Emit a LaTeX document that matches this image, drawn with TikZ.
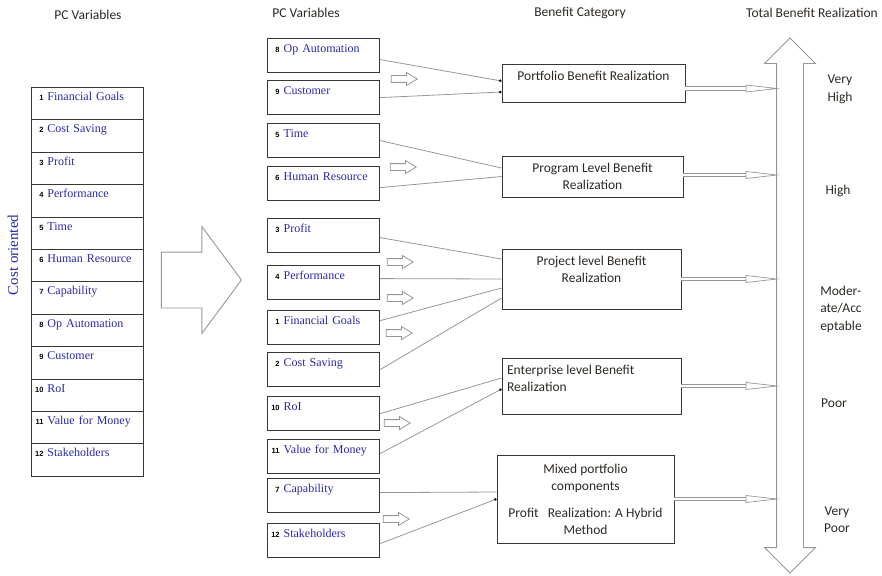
\documentclass[tikz,border=0pt]{standalone}
\usepackage{fontspec}
\setmainfont{Liberation Serif}
\newfontfamily\calfont{Carlito}
\newfontfamily\numfont{Liberation Sans}
\usetikzlibrary{shapes.arrows,arrows.meta}
\definecolor{varblue}{RGB}{40,40,170}
\definecolor{linegray}{RGB}{150,150,150}
\definecolor{boxgray}{RGB}{55,55,55}
\definecolor{txtgray}{RGB}{45,40,35}
\newcommand\pcno[1]{\makebox[10pt][r]{\color{black}\numfont\bfseries\fontsize{7.5}{7.5}\selectfont #1}\hspace{4pt}}

\begin{document}
\begin{tikzpicture}[x=1pt,y=-1pt,
    pcrow/.style={draw=boxgray,line width=0.9pt,anchor=north west,inner sep=2pt,
      text width=108pt,text height=11pt,text depth=17.4pt,text=varblue,
      font=\fontsize{12}{13}\selectfont},
    pcbox/.style={pcrow,line width=1.2pt,text height=12pt,text depth=18pt},
    bencat/.style={draw=boxgray,line width=0.9pt,text=txtgray,align=center,
      font=\calfont\fontsize{13.5}{17}\selectfont},
    bentext/.style={anchor=north,yshift=-4pt,align=center,text=txtgray,
      font=\calfont\fontsize{13.5}{17}\selectfont},
    colhead/.style={text=txtgray,align=center,font=\calfont\fontsize{13.5}{17.5}\selectfont},
    link/.style={linegray,line width=0.8pt},
    dotlink/.style={link,-{Circle[length=2.5pt,color=black]}},
    smallarr/.style={single arrow,draw=linegray,line width=0.8pt,minimum height=26pt,
      inner xsep=0pt,inner ysep=3pt,single arrow head extend=3pt,single arrow tip angle=62,
      anchor=tip},
    dblshaft/.style={draw=linegray,double=white,double distance=2.8pt,line width=0.7pt},
    tiphead/.style={draw=linegray,line width=0.7pt,fill=white}]
  \useasboundingbox (0,0) rectangle (882,575);

  \node[colhead] (h1) at (88,15) {PC Variables};
  \node[colhead] (h2) at (306,13) {PC Variables};
  \node[colhead] (h3) at (580,13) {Benefit Category};
  \node[colhead] (h4) at (812,13) {Total Benefit Realization};

  \node[rotate=90,text=varblue,font=\fontsize{15}{15}\selectfont] (cost) at (13,255) {Cost oriented};

  \node[pcrow] (p1) at (31,87) {\pcno{1}Financial Goals};
  \node[pcrow] (p2) at (31,119.4) {\pcno{2}Cost Saving};
  \node[pcrow] (p3) at (31,151.8) {\pcno{3}Profit};
  \node[pcrow] (p4) at (31,184.2) {\pcno{4}Performance};
  \node[pcrow] (p5) at (31,216.6) {\pcno{5}Time};
  \node[pcrow] (p6) at (31,249) {\pcno{6}Human Resource};
  \node[pcrow] (p7) at (31,281.4) {\pcno{7}Capability};
  \node[pcrow] (p8) at (31,313.8) {\pcno{8}Op Automation};
  \node[pcrow] (p9) at (31,346.2) {\pcno{9}Customer};
  \node[pcrow] (p10) at (31,378.6) {\pcno{10}RoI};
  \node[pcrow] (p11) at (31,411) {\pcno{11}Value for Money};
  \node[pcrow] (p12) at (31,443.4) {\pcno{12}Stakeholders};

  \node[single arrow,draw=linegray,line width=0.9pt,minimum height=80pt,inner xsep=0pt,
    inner ysep=27.5pt,single arrow head extend=25.5pt,single arrow tip angle=107,anchor=tip]
    (bigarr) at (242,280) {};

  \node[pcbox] (v8) at (267,38) {\pcno{8}Op Automation};
  \node[pcbox] (v9) at (267,80) {\pcno{9}Customer};
  \node[pcbox] (v5) at (267,123) {\pcno{5}Time};
  \node[pcbox] (v6) at (267,166) {\pcno{6}Human Resource};
  \node[pcbox] (v3) at (267,218) {\pcno{3}Profit};
  \node[pcbox] (v4) at (267,265) {\pcno{4}Performance};
  \node[pcbox] (v1) at (267,310) {\pcno{1}Financial Goals};
  \node[pcbox] (v2) at (267,352) {\pcno{2}Cost Saving};
  \node[pcbox] (v10) at (267,396) {\pcno{10}RoI};
  \node[pcbox] (v11) at (267,439) {\pcno{11}Value for Money};
  \node[pcbox] (v7) at (267,478) {\pcno{7}Capability};
  \node[pcbox] (v12) at (267,523) {\pcno{12}Stakeholders};

  \node[smallarr] (a1) at (418,79) {};
  \node[smallarr] (a2) at (417,167) {};
  \node[smallarr] (a3) at (414,262) {};
  \node[smallarr] (a4) at (414,298) {};
  \node[smallarr] (a5) at (413,333) {};
  \node[smallarr] (a6) at (411,423) {};
  \node[smallarr] (a7) at (410,519) {};

  \node[bencat,minimum width=183pt,minimum height=38pt,
    label={[bentext]north:{Portfolio Benefit Realization}}] (pf) at (593.5,83) {};
  \node[bencat,minimum width=181pt,minimum height=41pt] (pg) at (592.5,176.5)
    {Program Level Benefit\\Realization};
  \node[bencat,minimum width=179pt,minimum height=60pt,
    label={[bentext]north:{Project level Benefit\\Realization}}] (pj) at (591.5,279) {};
  \node[bencat,minimum width=179pt,minimum height=56pt,
    label={[bentext,anchor=north west,align=left,xshift=2pt]north west:{Enterprise level Benefit\\Realization}}]
    (en) at (591.5,386) {};
  \node[bencat,minimum width=177pt,minimum height=88pt] (mx) at (585.5,499)
    {Mixed portfolio\\components\\[10pt]Profit~~~Realization: A Hybrid\\Method};

  \draw[dotlink] ([yshift=-4pt]v8.east) -- ([yshift=2pt]pf.west);
  \draw[dotlink] (v9.east) -- ([yshift=-9pt]pf.west);
  \draw[link] (v5.east) -- ([yshift=8.5pt]pg.west);
  \draw[link] ([yshift=-4pt]v6.east) -- (pg.west);
  \draw[link] ([yshift=-2pt]v3.east) -- ([yshift=20pt]pj.west);
  \draw[link] ([yshift=4pt]v4.east) -- (pj.west);
  \draw[link] ([yshift=7pt]v1.east) -- ([yshift=-9pt]pj.west);
  \draw[link] (v2.east) -- ([yshift=-19pt]pj.west);
  \draw[link] (v10.east) -- ([yshift=8pt]en.west);
  \draw[dotlink] ([yshift=3pt]v11.east) -- ([yshift=-3pt]en.west);
  \draw[link] ([yshift=3pt]v7.east) -- ([yshift=7pt]mx.west);
  \draw[dotlink] ([yshift=-3pt]v12.east) -- (mx.west);

  \node[double arrow,draw=linegray,line width=0.9pt,rotate=90,minimum height=535pt,
    inner xsep=0pt,inner ysep=13pt,double arrow head extend=12pt,double arrow tip angle=90]
    (scale) at (790,305.5) {};

  \coordinate (t1) at (777,88.5);
  \coordinate (t2) at (777,175);
  \coordinate (t3) at (777,279);
  \coordinate (t4) at (777,386);
  \coordinate (t5) at (777,499);

  \draw[dblshaft] (pf.east |- t1) -- ([xshift=-28pt]t1);
  \draw[tiphead] ([xshift=-31pt,yshift=3.5pt]t1) -- (t1) -- ([xshift=-31pt,yshift=-3.5pt]t1) -- cycle;
  \draw[dblshaft] (pg.east |- t2) -- ([xshift=-28pt]t2);
  \draw[tiphead] ([xshift=-31pt,yshift=3.5pt]t2) -- (t2) -- ([xshift=-31pt,yshift=-3.5pt]t2) -- cycle;
  \draw[dblshaft] (pj.east |- t3) -- ([xshift=-28pt]t3);
  \draw[tiphead] ([xshift=-31pt,yshift=3.5pt]t3) -- (t3) -- ([xshift=-31pt,yshift=-3.5pt]t3) -- cycle;
  \draw[dblshaft] (en.east |- t4) -- ([xshift=-28pt]t4);
  \draw[tiphead] ([xshift=-31pt,yshift=3.5pt]t4) -- (t4) -- ([xshift=-31pt,yshift=-3.5pt]t4) -- cycle;
  \draw[dblshaft] (mx.east |- t5) -- ([xshift=-28pt]t5);
  \draw[tiphead] ([xshift=-31pt,yshift=3.5pt]t5) -- (t5) -- ([xshift=-31pt,yshift=-3.5pt]t5) -- cycle;

  \node[colhead] (r1) at (840,89.5) {Very\\High};
  \node[colhead] (r2) at (838,191) {High};
  \node[colhead,align=left] (r3) at (841,309) {Moder-\\ate/Acc\\eptable};
  \node[colhead] (r4) at (834,403) {Poor};
  \node[colhead] (r5) at (837,519.5) {Very\\Poor};
\end{tikzpicture}
\end{document}
